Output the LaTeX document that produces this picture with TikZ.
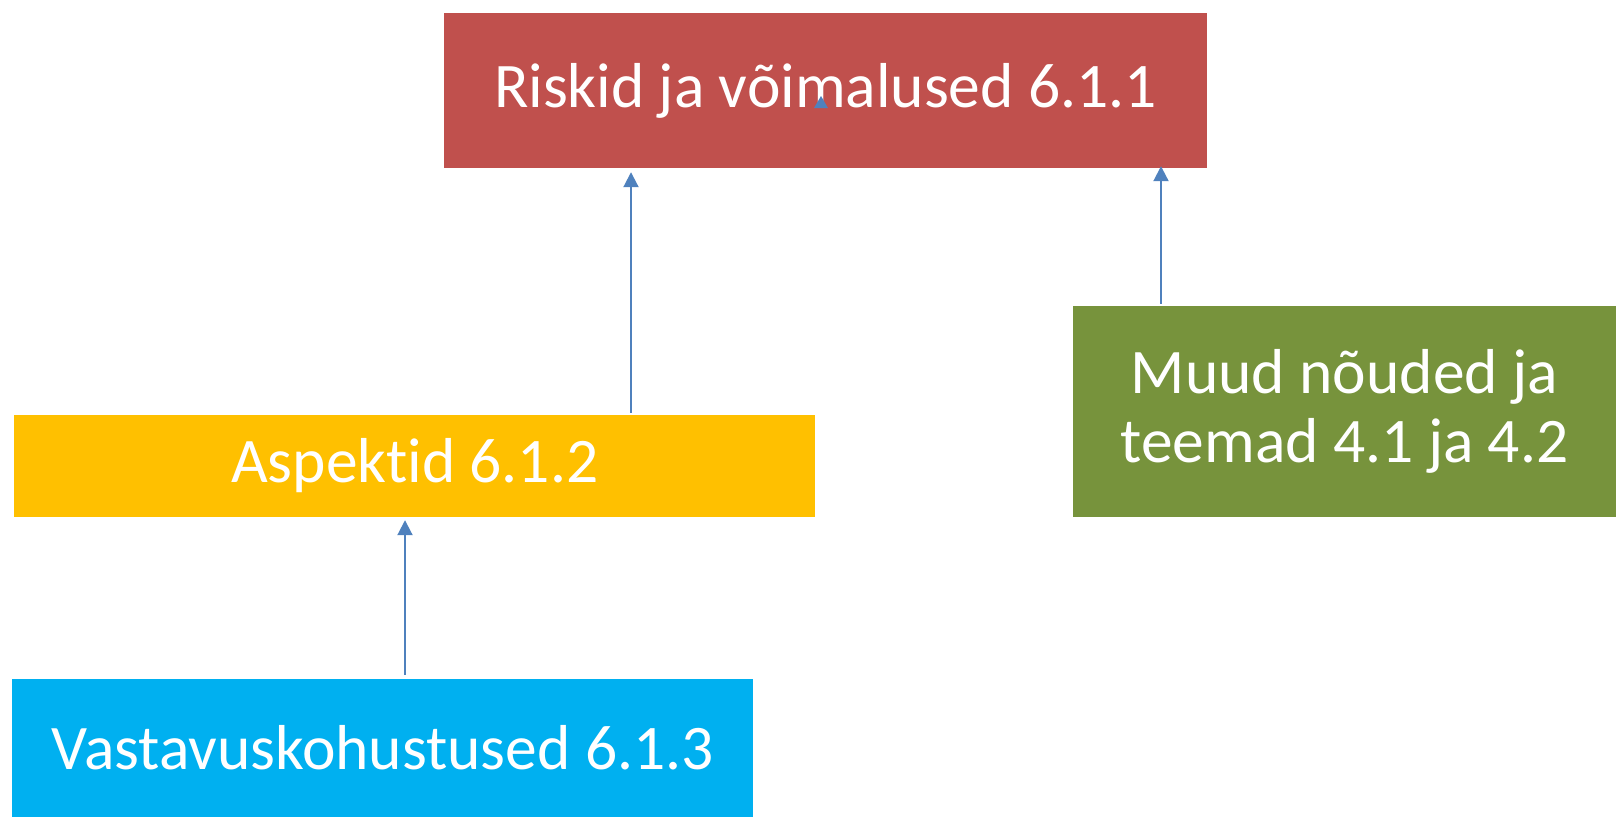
\documentclass[tikz,border=0pt]{standalone}
\usepackage{fontspec}
\setmainfont[Ligatures=NoCommon]{Carlito}
\usetikzlibrary{arrows.meta}
\definecolor{cred}{HTML}{C0504D}
\definecolor{cyel}{HTML}{FFC000}
\definecolor{cgrn}{HTML}{77933C}
\definecolor{cblu}{HTML}{00B0F0}
\definecolor{carr}{HTML}{4F81BD}
\tikzset{
  box/.style={rectangle, inner sep=0pt, text=white, align=center,
    font=\fontsize{63.5}{69}\selectfont},
  arr/.style={draw=carr, line width=2pt, -{Triangle[width=15pt,length=15pt]}}
}
\begin{document}
\begin{tikzpicture}[x=1pt,y=-1pt]
\useasboundingbox (0,0) rectangle (1616,817);
\node[box, fill=cred, minimum width=763pt, minimum height=155pt] (risk) at (825.5,90.5) {Riskid ja võimalused 6.1.1};
\node[box, fill=cyel, minimum width=801pt, minimum height=102pt] (asp) at (414.7,466) {Aspektid 6.1.2};
\node[box, fill=cgrn, minimum width=543pt, minimum height=211pt] (muud) at (1344.5,411.5) {Muud nõuded ja\\teemad 4.1 ja 4.2};
\node[box, fill=cblu, minimum width=741pt, minimum height=138pt] (vast) at (382.7,748) {Vastavuskohustused 6.1.3};
\coordinate (a1) at (631,0);
\coordinate (a2) at (1161,0);
\coordinate (a3) at (405,0);
\draw[arr, shorten <=2pt, shorten >=4pt] (asp.north -| a1) -- (risk.south -| a1);
\draw[arr, shorten <=2pt, shorten >=-2pt] (muud.north -| a2) -- (risk.south -| a2);
\draw[arr, shorten <=4pt, shorten >=3pt] (vast.north -| a3) -- (asp.south -| a3);
\fill[carr] (821,96) -- (828,108) -- (814,108) -- cycle;
\end{tikzpicture}
\end{document}
